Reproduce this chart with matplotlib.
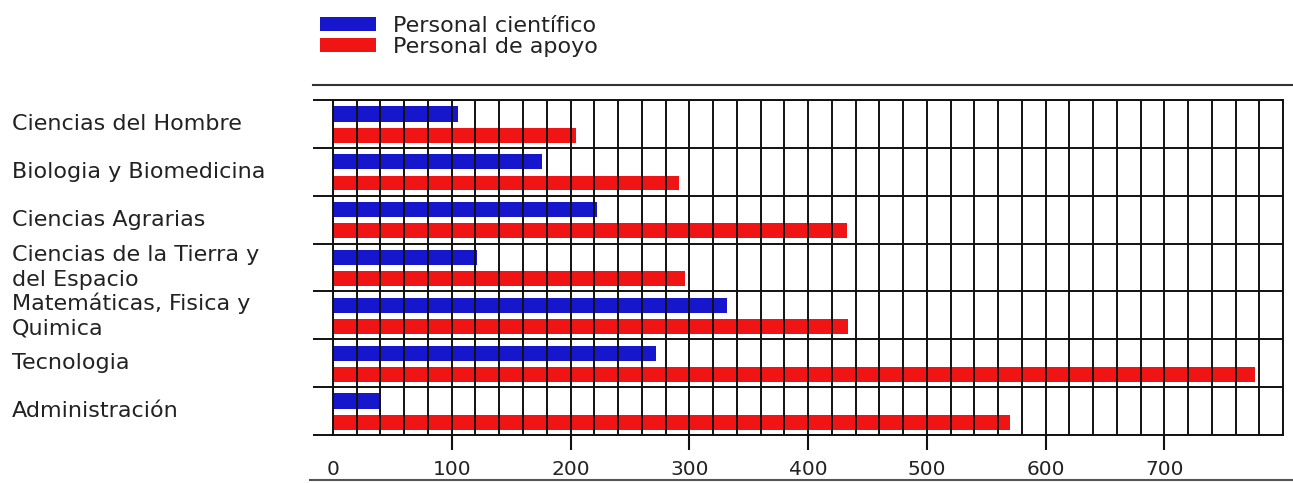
import matplotlib
matplotlib.use("Agg")
import numpy as np
import matplotlib.pyplot as plt
from matplotlib.ticker import MultipleLocator
from matplotlib.transforms import blended_transform_factory
from matplotlib.lines import Line2D

# Data
categories = [
    "Ciencias del Hombre",
    "Biologia y Biomedicina",
    "Ciencias Agrarias",
    "Ciencias de la Tierra y\ndel Espacio",
    "Matemáticas, Fisica y\nQuimica",
    "Tecnologia",
    "Administración",
]
cientifico = [105, 176, 222, 121, 332, 272, 40]
apoyo = [205, 291, 433, 296, 434, 776, 570]
series_names = ["Personal científico", "Personal de apoyo"]
x_ticks = [0, 100, 200, 300, 400, 500, 600, 700]

BLUE = "#1616cc"
RED = "#f01414"
INK = "#111111"
FS = 16

plt.rcParams["font.family"] = ["DejaVu Sans"]

W, H = 1293, 483
fig = plt.figure(figsize=(W / 100, H / 100), dpi=100)
ax = fig.add_axes([333 / W, 48 / H, 950 / W, 335 / H])

y = np.arange(len(categories))
b1 = ax.barh(y - 0.21, cientifico, height=0.32, color=BLUE, zorder=1)
b2 = ax.barh(y + 0.235, apoyo, height=0.31, color=RED, zorder=1)

ax.set_xlim(0, 800)
ax.set_ylim(len(categories) - 0.5, -0.5)
ax.set_axisbelow(False)

# x: labelled ticks every 100, grid every 20
ax.set_xticks(x_ticks)
ax.set_xticklabels([str(v) for v in x_ticks], fontsize=14.5, color="#222222")
ax.xaxis.set_minor_locator(MultipleLocator(20))
ax.tick_params(axis="x", which="major", length=10.8, width=1.5, color=INK, pad=7)
ax.tick_params(axis="x", which="minor", length=0)
ax.xaxis.get_major_ticks()[0].tick1line.set_visible(False)
ax.grid(True, axis="x", which="both", color=INK, linewidth=1.4)

# y: group separators stick out to the left
ax.set_yticks(np.arange(len(categories) + 1) - 0.5)
ax.set_yticklabels([])
ax.tick_params(axis="y", which="major", length=14.4, width=1.4, color=INK)
ax.grid(True, axis="y", which="major", color=INK, linewidth=1.4)

for s in ax.spines.values():
    s.set_color(INK)
    s.set_linewidth(1.4)

# category names, left aligned at the figure edge
trans = blended_transform_factory(fig.transFigure, ax.transData)
for yi, name in zip(y, categories):
    ax.text(12 / W, yi, name, transform=trans, ha="left", va="center",
            fontsize=FS, color="#222222", linespacing=1.3)

fig.legend([b1, b2], series_names, loc="upper left",
           bbox_to_anchor=(320 / W, (H - 16) / H), frameon=False,
           fontsize=FS, handlelength=2.5, handleheight=0.6,
           handletextpad=0.8, labelspacing=0.05, borderpad=0,
           borderaxespad=0, labelcolor="#222222")

# printed rules above and below the chart
fig.add_artist(Line2D([313 / W, 1.0], [(H - 85) / H] * 2,
                      transform=fig.transFigure, color="#333333", lw=1.5))
fig.add_artist(Line2D([310 / W, 1.0], [(H - 480) / H] * 2,
                      transform=fig.transFigure, color="#555555", lw=1.5))

fig.savefig("out.png", dpi=100)
